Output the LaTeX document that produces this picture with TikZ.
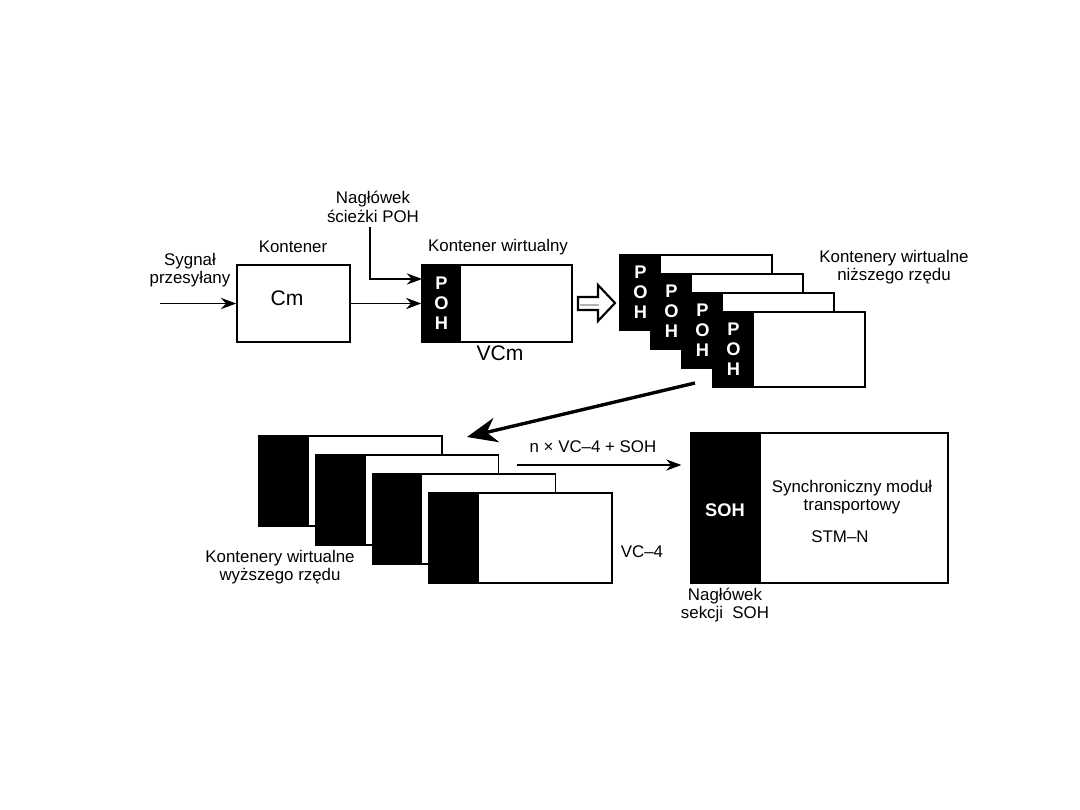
\documentclass[tikz,border=0pt]{standalone}
\usepackage{fontspec}
\setmainfont{Liberation Sans}
\usetikzlibrary{arrows.meta,positioning}

\begin{document}
\begin{tikzpicture}[x=0.025cm,y=-0.025cm,>={Stealth[length=3.8mm,width=2.8mm]},
    lbl/.style={font=\fontsize{12}{13}\selectfont,align=center,inner sep=0pt},
    big/.style={font=\fontsize{15}{15}\selectfont,inner sep=0pt},
    box/.style={draw,line width=1pt,inner sep=0pt},
    conn/.style={->,line width=1.3pt},
    poh/.style={text=white,font=\fontsize{13}{14.3}\selectfont\bfseries,align=center,inner sep=0pt}]
    \useasboundingbox (0,0) rectangle (1080,810);
    % first row: signal -> container -> virtual container
    \node[box,minimum width=2.83cm,minimum height=1.93cm] (cm) at (293.5,303.5) {};
    \node[big] (cmtxt) at (287,298) {Cm};
    \node[lbl] (kont) at (293,247) {Kontener};
    \node[lbl] (syg) at (190,270) {Sygnał\\przesyłany};
    \node[box,minimum width=3.75cm,minimum height=1.93cm] (vc) at (497,303.5) {};
    \fill (vc.north west) rectangle (461,342);
    \node[poh] (poh) at (441.5,303) {P\\O\\H};
    \node[lbl] (kwirt) at (498,247) {Kontener wirtualny};
    \node[big] (vcm) at (500,353) {VCm};
    \node[lbl] (nag) at (373,207) {Nagłówek\\ścieżki POH};
    \coordinate (sig) at (160,303.5);
    \coordinate (pohin) at (422,279);
    \draw[conn] (sig) -- (cm);
    \draw[conn] (cm) -- (vc);
    \draw[conn] ([xshift=-2pt,yshift=-3pt]nag.south) |- (pohin);
    % hollow arrow
    \draw[line width=1.5pt,line join=miter] (578,297) -- (598,297) -- (598,285) -- (615,303) -- (598,321) -- (598,310) -- (578,310) -- cycle;
    \draw[gray!60,line width=1.5pt] (580,305) -- (599,305);
    % lower order VCs
    \foreach \i in {0,...,3}{
      \filldraw[fill=white,line width=1pt] (620+31*\i,255+19*\i) rectangle ++(152,75);
      \fill (620+31*\i,255+19*\i) rectangle ++(41,75);
      \node[poh] (poh\i) at (640.5+31*\i,292.5+19*\i) {P\\O\\H};
    }
    \node[lbl] (nizsze) at (894,267) {Kontenery wirtualne\\niższego rzędu};
    \coordinate (lotail) at (695,383);
    \coordinate (hitip) at (467,437);
    \draw[line width=2.4pt,-{Stealth[length=0.75cm,width=0.62cm]}] (lotail) -- (hitip);
    % higher order VCs
    \foreach \i in {0,...,3}{
      \filldraw[fill=white,line width=1pt] (259+56.7*\i,436+19*\i) rectangle ++(183,90);
      \fill (259+56.7*\i,436+19*\i) rectangle ++(50,90);
    }
    \node[lbl] (wyzsze) at (280,567) {Kontenery wirtualne\\wyższego rzędu};
    \node[lbl] (vc4) at (642,552) {VC–4};
    % STM-N
    \node[box,minimum width=6.43cm,minimum height=3.75cm] (stm) at (819.5,508) {};
    \fill (stm.north west) rectangle (761,583);
    \node[poh] (soh) at (725,510) {SOH};
    \node[lbl] (synch) at (852,497) {Synchroniczny moduł\\transportowy};
    \node[lbl] (stmn) at (840,537) {STM–N};
    \node[lbl] (nagsoh) at (725,605) {Nagłówek\\sekcji~~SOH};
    \coordinate (muxin) at (517,465);
    \draw[conn,shorten >=0.22cm] (muxin) -- (muxin -| stm.west);
    \node[lbl] (mux) at (593,447) {n × VC–4 + SOH};
\end{tikzpicture}
\end{document}
